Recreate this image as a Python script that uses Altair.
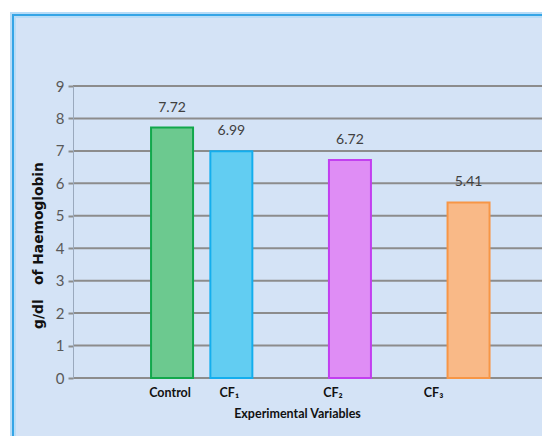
import altair as alt
import pandas as pd

# ---- data ----
categories = ["Control", "CF₁", "CF₂", "CF₃"]
values = [7.72, 6.99, 6.72, 5.41]
value_labels = ["7.72", "6.99", "6.72", "5.41"]
y_ticks = [0, 1, 2, 3, 4, 5, 6, 7, 8, 9]
x_slots = [" ", "Control", "CF₁", "  ", "CF₂", "   ", "CF₃"]  # blank slots give the uneven spacing

# ---- styles ----
fills = ["#6cc98f", "#62cdf2", "#df8df5", "#f9b987"]
strokes = ["#12a84c", "#14aeee", "#c23ff0", "#f79646"]
label_dx = [-2, -2, -17, -35]
FONT = "Lato, Liberation Sans Narrow, DejaVu Sans Condensed, sans-serif"
W, H = 469, 292
BG = "#d4e3f6"

bars_df = pd.DataFrame({"cat": categories, "val": values, "lbl": value_labels})
ticks_df = pd.DataFrame({"val": y_ticks})
one_df = pd.DataFrame({"k": [0]})

xscale = alt.Scale(domain=x_slots, paddingInner=0.29, paddingOuter=0.5995, align=0.263)
yscale = alt.Scale(domain=[0, 9], nice=False)

xaxis = alt.Axis(title="Experimental Variables", labels=False, ticks=False, domain=False,
                 grid=False, titleFont=FONT, titleFontSize=12.5, titleFontWeight="bold",
                 titleColor="#111111", titleX=224, titleY=35, titleBaseline="middle",
                 titleAlign="center", zindex=1)
yaxis = alt.Axis(values=y_ticks, title="g/dl\u00a0\u00a0\u00a0of Haemoglobin", grid=False,
                 domainColor="#9aa9bd", domainWidth=1, tickColor="#8c8c8c", tickSize=5,
                 tickWidth=2, labelFont=FONT, labelFontSize=15, labelColor="#595959",
                 labelPadding=4, titleFont="DejaVu Sans", titleFontSize=13.8,
                 titleFontWeight="bold", titleColor="#111111", titleAngle=270,
                 titleX=-35, titleY=159, titleBaseline="middle", titleAlign="center",
                 zindex=1)

glow = alt.Chart(one_df).mark_rect(fill=BG, stroke="#b8dcf7", strokeWidth=6, clip=False).encode(
    x=alt.value(-60), x2=alt.value(W + 30), y=alt.value(-71), y2=alt.value(H + 90))
frame = alt.Chart(one_df).mark_rect(fillOpacity=0, stroke="#35a5e6", strokeWidth=2, clip=False).encode(
    x=alt.value(-60), x2=alt.value(W + 30), y=alt.value(-71), y2=alt.value(H + 90))

grid = alt.Chart(ticks_df).mark_rule(color="#8c8c8c", strokeWidth=2).encode(
    y=alt.Y("val:Q", scale=yscale, axis=yaxis))

bars = alt.Chart(bars_df).mark_bar(size=42, strokeWidth=2).encode(
    x=alt.X("cat:N", scale=xscale, axis=xaxis, sort=x_slots),
    y=alt.Y("val:Q", scale=yscale, axis=yaxis),
    fill=alt.Fill("cat:N", scale=alt.Scale(domain=categories, range=fills), legend=None),
    stroke=alt.Stroke("cat:N", scale=alt.Scale(domain=categories, range=strokes), legend=None),
)

vals = alt.Chart(bars_df).mark_text(dy=-20, baseline="middle", font=FONT, fontSize=14,
                                    color="#404040").encode(
    x=alt.X("cat:N", scale=xscale, axis=xaxis, sort=x_slots),
    y=alt.Y("val:Q", scale=yscale, axis=yaxis),
    text="lbl:N")

cat_layers = []
for c, dx in zip(categories, label_dx):
    cat_layers.append(
        alt.Chart(bars_df).transform_filter(alt.datum.cat == c).mark_text(
            dx=dx, baseline="middle", font=FONT, fontSize=12.5, fontWeight="bold",
            color="#111111").encode(
            x=alt.X("cat:N", scale=xscale, axis=xaxis, sort=x_slots),
            y=alt.value(H + 15),
            text="cat:N"))

chart = alt.layer(glow, frame, grid, bars, vals, *cat_layers).properties(
    width=W, height=H,
    autosize=alt.AutoSizeParams(type="none"),
    padding={"left": 65, "top": 78, "right": 0, "bottom": 58},
    background="white",
).configure_view(stroke=None)

chart.save("out.html", embed_options={"renderer": "svg", "actions": False})
